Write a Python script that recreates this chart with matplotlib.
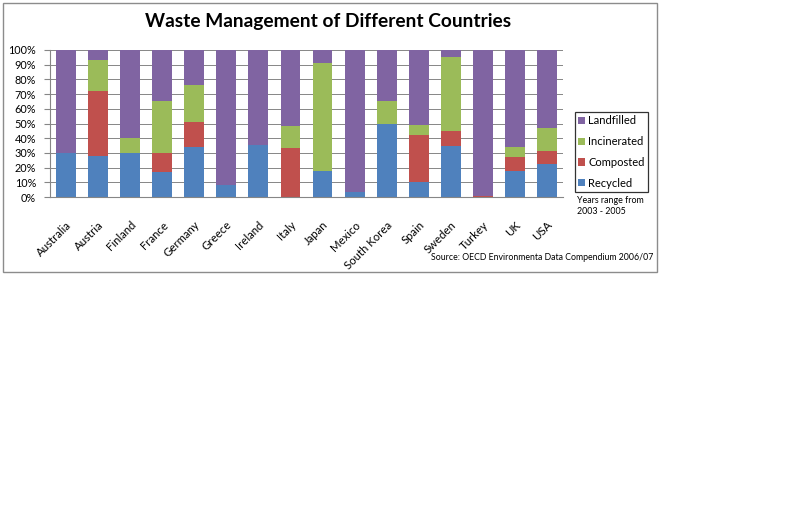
import matplotlib
matplotlib.use("Agg")
import matplotlib.pyplot as plt
from matplotlib.patches import Rectangle
import numpy as np

plt.rcParams["font.family"] = ["Lato", "DejaVu Sans"]

countries = ["Australia", "Austria", "Finland", "France", "Germany", "Greece",
             "Ireland", "Italy", "Japan", "Mexico", "South Korea", "Spain",
             "Sweden", "Turkey", "UK", "USA"]
recycled = [30, 28, 30, 17, 34, 8, 35.5, 0, 18, 3.5, 50, 10, 35, 0, 18, 22.5]
composted = [0, 44, 0, 13, 17, 0, 0, 33, 0, 0, 0, 32, 10, 1, 9, 8.5]
incinerated = [0, 21, 10, 35, 25, 0, 0, 15, 73, 0, 15, 7, 50, 0, 7, 16]
landfilled = [70, 7, 60, 35, 24, 92, 64.5, 52, 9, 96.5, 35, 51, 5, 99, 66, 53]

series = [("Recycled", recycled, "#4F81BD"),
          ("Composted", composted, "#C0504D"),
          ("Incinerated", incinerated, "#9BBB59"),
          ("Landfilled", landfilled, "#8064A2")]

W, H = 800, 519
fig = plt.figure(figsize=(W / 100, H / 100), dpi=100)

# chart border
fig.patches.append(Rectangle((3 / W, 1 - 272 / H), 654 / W, 269 / H,
                             transform=fig.transFigure, facecolor="none",
                             edgecolor="#8c8c8c", linewidth=1.0, zorder=-1))

ax = fig.add_axes([50 / W, 1 - 197 / H, 513 / W, 147 / H])

x = np.arange(len(countries))
bottom = np.zeros(len(countries))
handles = []
for name, vals, color in series:
    vals = np.array(vals, dtype=float)
    h = ax.bar(x, vals, 0.62, bottom=bottom, color=color, label=name, zorder=2)
    handles.append(h)
    bottom += vals

ax.set_xlim(-0.5, len(countries) - 0.5)
ax.set_ylim(0, 100)
ax.set_yticks(np.arange(0, 101, 10))
ax.set_yticklabels([f"{v}%" for v in range(0, 101, 10)], fontsize=7.8)
ax.set_xticks(x)
ax.set_xticklabels(countries, rotation=45, ha="right", rotation_mode="anchor",
                   fontsize=8.2)
ax.tick_params(axis="x", length=0, pad=16)
ax.tick_params(axis="y", length=4, color="#868686", pad=6)
ax.yaxis.grid(True, color="#868686", linewidth=0.7, zorder=0)
ax.set_axisbelow(True)
for s in ["top", "right"]:
    ax.spines[s].set_visible(False)
for s in ["left", "bottom"]:
    ax.spines[s].set_color("#868686")
    ax.spines[s].set_linewidth(0.8)

fig.text(328 / W, 1 - 22 / H, "Waste Management of Different Countries",
         ha="center", va="center", fontsize=13.8, fontweight="bold")

leg = fig.legend(handles[::-1], [s[0] for s in series][::-1],
                 loc="upper left", bbox_to_anchor=(575 / W, 1 - 112 / H),
                 fontsize=8, frameon=True, fancybox=False,
                 handlelength=0.6, handleheight=0.6, handletextpad=0.3,
                 labelspacing=0.89, borderpad=0.28, borderaxespad=0)
leg.get_frame().set_edgecolor("black")
leg.get_frame().set_linewidth(0.9)

fig.text(577 / W, 1 - 196 / H, "Years range from\n2003 - 2005", ha="left",
         va="top", fontsize=6.4, linespacing=1.25)
fig.text(653 / W, 1 - 258 / H, "Source: OECD Environmenta Data Compendium 2006/07",
         ha="right", va="center", fontsize=6.3)

fig.savefig("out.png", dpi=100)
